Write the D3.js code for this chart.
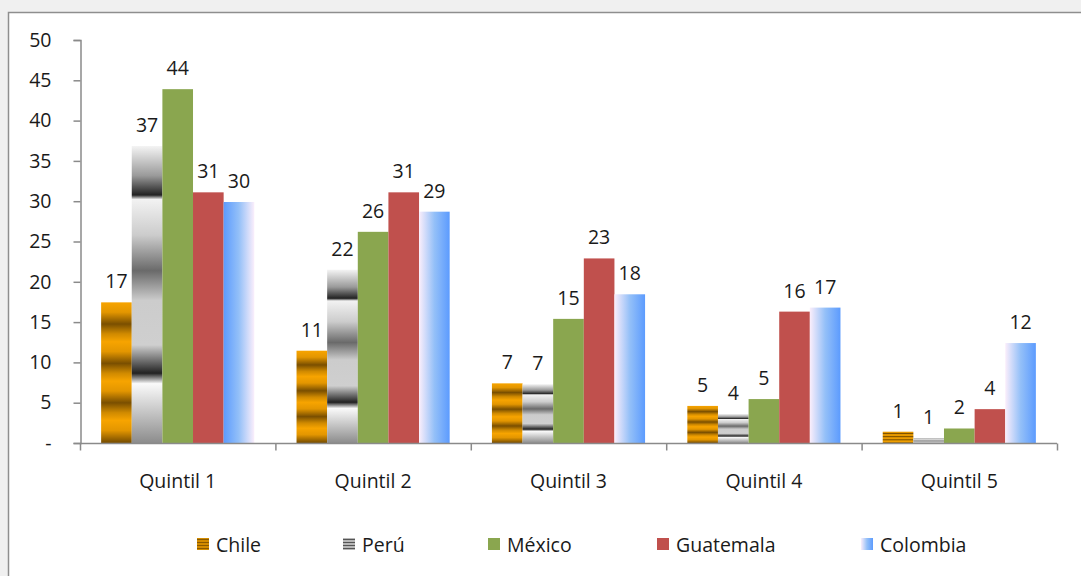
<!DOCTYPE html>
<html>
<head>
<meta charset="utf-8">
<script src="https://cdn.jsdelivr.net/npm/d3@7"></script>
<style>
  body { margin: 0; background: #f0f0f0; }
  svg text { font-family: 'Open Sans', 'Noto Sans', sans-serif; fill: #1a1a1a; font-variant-ligatures: none; }
</style>
</head>
<body>
<div id="chart--wrap"></div>
<script>
const quintiles = ['Quintil 1', 'Quintil 2', 'Quintil 3', 'Quintil 4', 'Quintil 5'];
const countries = ['Chile', 'Perú', 'México', 'Guatemala', 'Colombia'];
const chile = [17.45, 11.45, 7.4, 4.6, 1.4];
const peru = [36.85, 21.5, 7.3, 3.6, 0.6];
const mexico = [43.9, 26.2, 15.4, 5.45, 1.8];
const guatemala = [31.1, 31.1, 22.9, 16.3, 4.2];
const colombia = [29.9, 28.7, 18.45, 16.8, 12.4];
const yTicks = [0, 5, 10, 15, 20, 25, 30, 35, 40, 45, 50];

const series = [chile, peru, mexico, guatemala, colombia];
const fills = ['url(#g-chile)', 'url(#g-peru)', '#8aa64f', '#c0504d', 'url(#g-colombia)'];

const W = 1081, H = 576;
const margin = { top: 40, left: 80, right: 24 };
const plotBottom = 443;
const fontSize = '19.5px';

const svg = d3.select('#chart--wrap').append('svg')
  .attr('width', W)
  .attr('height', H);

// Gradients for the patterned bars
const defs = svg.append('defs');

const gChile = defs.append('linearGradient')
  .attr('id', 'g-chile')
  .attr('x1', 0).attr('y1', 0).attr('x2', 0).attr('y2', 0.28)
  .attr('spreadMethod', 'repeat');
[[0, '#f7a400'], [0.25, '#e39600'], [0.55, '#7a4f00'], [0.8, '#d08a00'], [1, '#f7a400']].forEach(s => {
  gChile.append('stop').attr('offset', s[0]).attr('stop-color', s[1]);
});

const gPeru = defs.append('linearGradient')
  .attr('id', 'g-peru')
  .attr('x1', 0).attr('y1', 0).attr('x2', 0).attr('y2', 1);
[[0, '#f4f4f4'], [0.1, '#9a9a9a'], [0.165, '#222'], [0.18, '#f2f2f2'], [0.3, '#cccccc'],
 [0.42, '#6a6a6a'], [0.52, '#cccccc'], [0.67, '#cfcfcf'], [0.765, '#222'], [0.8, '#fafafa'], [1, '#8c8c8c']].forEach(s => {
  gPeru.append('stop').attr('offset', s[0]).attr('stop-color', s[1]);
});

const colStops = [[0, '#fbeefb'], [0.5, '#94c0f8'], [1, '#5c9bfe']];
const gCol = defs.append('linearGradient')
  .attr('id', 'g-colombia')
  .attr('x1', 0).attr('y1', 0).attr('x2', 1).attr('y2', 0);
colStops.forEach(s => { gCol.append('stop').attr('offset', s[0]).attr('stop-color', s[1]); });

const gColRev = defs.append('linearGradient')
  .attr('id', 'g-colombia-rev')
  .attr('x1', 1).attr('y1', 0).attr('x2', 0).attr('y2', 0);
colStops.forEach(s => { gColRev.append('stop').attr('offset', s[0]).attr('stop-color', s[1]); });

// Frame
svg.append('rect')
  .attr('x', 8.5).attr('y', 12.5)
  .attr('width', W + 20).attr('height', H + 20)
  .attr('fill', '#fff')
  .attr('stroke', '#8e8e8e')
  .attr('stroke-width', 1.5);

// Scales
const x0 = d3.scaleBand().domain(quintiles).range([80, 1057]).padding(0);
const x1 = d3.scaleBand().domain(countries).range([0, x0.bandwidth()]).paddingInner(0).paddingOuter(0.69);
const y = d3.scaleLinear().domain([0, 50]).range([plotBottom, margin.top]);

const axisColor = '#8a8a8a';

// Y axis
const yAxis = svg.append('g')
  .attr('transform', 'translate(80.5,0)')
  .call(d3.axisLeft(y).tickValues(yTicks).tickSize(7).tickPadding(22)
    .tickFormat(d => d === 0 ? '-' : d));
yAxis.select('.domain').attr('stroke', axisColor).attr('stroke-width', 1.5);
yAxis.selectAll('line').attr('stroke', axisColor).attr('stroke-width', 1.5);
yAxis.selectAll('text').style('font-size', fontSize).attr('fill', '#1a1a1a');

// Bars
quintiles.forEach((q, qi) => {
  const grp = svg.append('g').attr('transform', `translate(${x0(q)},0)`);
  countries.forEach((c, ci) => {
    const v = series[ci][qi];
    let fill = fills[ci];
    if (ci === 4 && qi === 0) fill = 'url(#g-colombia-rev)';
    grp.append('rect')
      .attr('x', x1(c))
      .attr('y', y(v))
      .attr('width', x1.bandwidth())
      .attr('height', y(0) - y(v))
      .attr('fill', fill);
    grp.append('text')
      .attr('x', x1(c) + x1.bandwidth() / 2)
      .attr('y', y(v) - 14)
      .attr('text-anchor', 'middle')
      .style('font-size', fontSize)
      .text(d3.format('.0f')(v));
  });
});

// X axis
const xAxis = svg.append('g')
  .attr('transform', `translate(0,${plotBottom + 0.5})`);
xAxis.append('line')
  .attr('x1', 80).attr('x2', 1057)
  .attr('stroke', axisColor).attr('stroke-width', 1.5);
xAxis.selectAll('.tick')
  .data(quintiles.map(q => x0(q)).concat([x0.range()[1]]))
  .enter()
  .append('line')
  .attr('x1', d => d + 0.5).attr('x2', d => d + 0.5)
  .attr('y1', 0).attr('y2', 7)
  .attr('stroke', axisColor).attr('stroke-width', 1.5);
xAxis.selectAll('.label')
  .data(quintiles)
  .enter()
  .append('text')
  .attr('x', d => x0(d) + x0.bandwidth() / 2)
  .attr('y', 38)
  .attr('dy', '0.35em')
  .attr('text-anchor', 'middle')
  .style('font-size', fontSize)
  .text(d => d);

// Legend
const legendX = [197, 343, 488, 657, 861];
const legendFills = ['url(#g-chile-leg)', 'url(#g-peru-leg)', '#8aa64f', '#c0504d', 'url(#g-colombia)'];

const gChileLeg = defs.append('linearGradient')
  .attr('id', 'g-chile-leg')
  .attr('x1', 0).attr('y1', 0).attr('x2', 0).attr('y2', 0.25)
  .attr('spreadMethod', 'repeat');
[[0, '#f7a400'], [0.5, '#8a5a00'], [1, '#f7a400']].forEach(s => {
  gChileLeg.append('stop').attr('offset', s[0]).attr('stop-color', s[1]);
});
const gPeruLeg = defs.append('linearGradient')
  .attr('id', 'g-peru-leg')
  .attr('x1', 0).attr('y1', 0).attr('x2', 0).attr('y2', 0.25)
  .attr('spreadMethod', 'repeat');
[[0, '#e8e8e8'], [0.5, '#555'], [1, '#e8e8e8']].forEach(s => {
  gPeruLeg.append('stop').attr('offset', s[0]).attr('stop-color', s[1]);
});

const key = svg.append('g').selectAll('g')
  .data(countries)
  .enter()
  .append('g')
  .attr('transform', (d, i) => `translate(${legendX[i]},538)`);
key.append('rect')
  .attr('width', 12).attr('height', 12)
  .attr('fill', (d, i) => legendFills[i]);
key.append('text')
  .attr('x', 19).attr('y', 7)
  .attr('dy', '0.35em')
  .style('font-size', fontSize)
  .text(d => d);
</script>
</body>
</html>
